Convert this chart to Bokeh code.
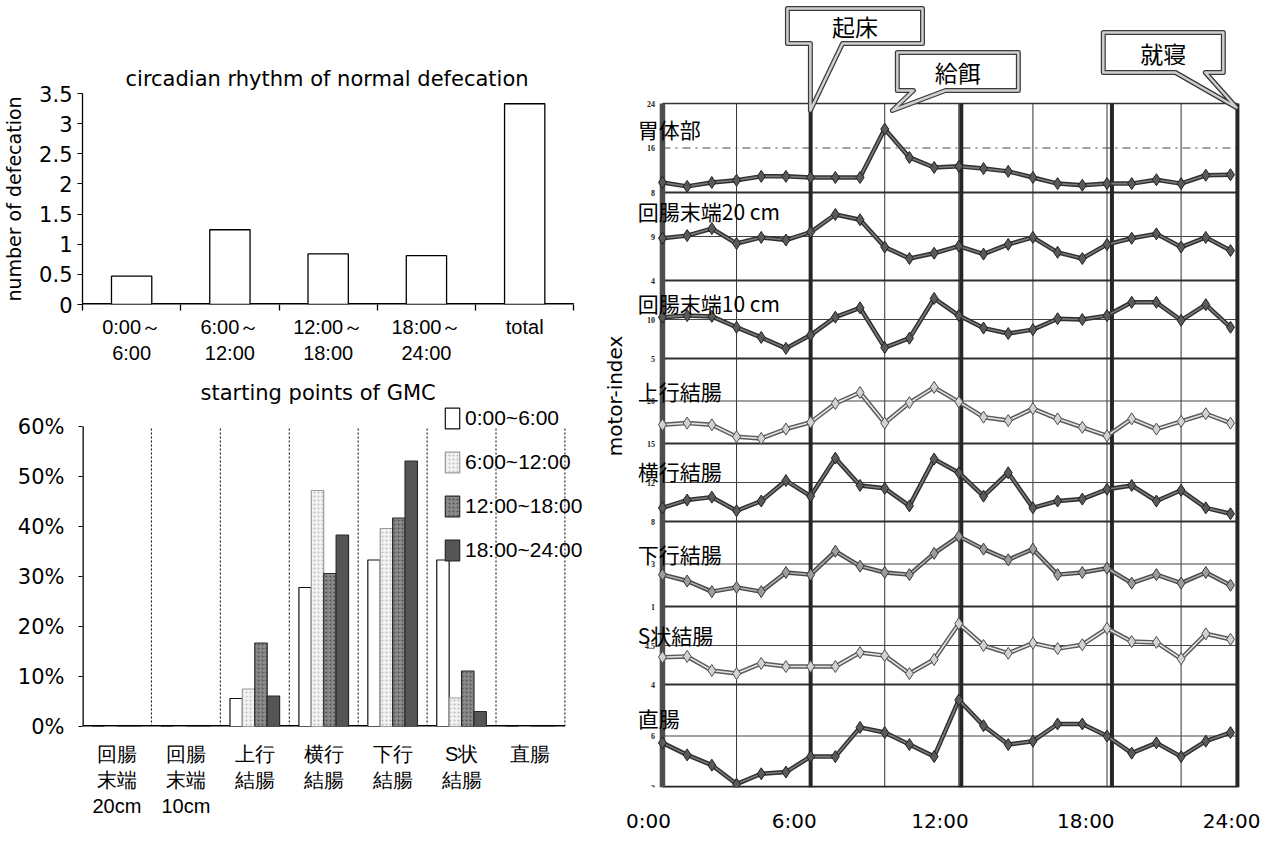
from bokeh.plotting import figure
from bokeh.layouts import row, column
from bokeh.models import (Range1d, LinearAxis, FixedTicker, LinearScale,
                          NumeralTickFormatter, PrintfTickFormatter, Legend, LegendItem, Label)
from bokeh.core.properties import value
from bokeh.embed import file_html
from bokeh.resources import INLINE

LATIN = "DejaVu Sans"
LAB = "Liberation Sans"
CJK = "Noto Sans CJK JP"

# ---------------- data: circadian rhythm of normal defecation ----------------
periods = ["0:00～\n6:00", "6:00～\n12:00", "12:00～\n18:00", "18:00～\n24:00", "total"]
defecations = [0.47, 1.24, 0.84, 0.81, 3.33]
defec_ticks = [0, 0.5, 1, 1.5, 2, 2.5, 3, 3.5]

# ---------------- data: starting points of GMC ----------------
segments = ["回腸\n末端\n20cm", "回腸\n末端\n10cm", "上行\n結腸", "横行\n結腸", "下行\n結腸", "S状\n結腸", "直腸"]
gmc_0_6 = [0, 0, 5.6, 27.8, 33.3, 33.3, 0]
gmc_6_12 = [0, 0, 7.5, 47.2, 39.6, 5.7, 0]
gmc_12_18 = [0, 0, 16.7, 30.6, 41.7, 11.1, 0]
gmc_18_24 = [0, 0, 6.1, 38.3, 53.1, 3.0, 0]
gmc_labels = ["0:00~6:00", "6:00~12:00", "12:00~18:00", "18:00~24:00"]
gmc_ticks = [0, 10, 20, 30, 40, 50, 60]

# ---------------- data: motor-index over 24 h ----------------
hours = list(range(24))
series_names = ["胃体部", "回腸末端20 cm", "回腸末端10 cm", "上行結腸", "横行結腸", "下行結腸", "S状結腸", "直腸"]
stomach = [9.8, 9.1, 9.8, 10.2, 10.9, 10.9, 10.7, 10.7, 10.7, 19.4, 14.3, 12.5,
           12.7, 12.3, 11.8, 10.7, 9.6, 9.3, 9.6, 9.6, 10.3, 9.6, 11.1, 11.2]
ileum20 = [8.8, 9.1, 9.9, 8.2, 8.9, 8.6, 9.5, 11.5, 10.9, 7.8, 6.5, 7.1,
           7.9, 7.0, 8.1, 8.9, 7.2, 6.5, 8.1, 8.8, 9.3, 7.8, 8.9, 7.4]
ileum10 = [10.3, 10.5, 10.4, 9.0, 7.7, 6.3, 8.0, 10.3, 11.5, 6.4, 7.6, 12.7,
           10.5, 8.9, 8.2, 8.7, 10.1, 10.0, 10.5, 12.2, 12.2, 9.9, 11.9, 9.0]
ascending = [17.2, 17.4, 17.2, 15.8, 15.6, 16.7, 17.5, 19.7, 21.0, 17.4, 19.8, 21.6,
             19.9, 18.1, 17.7, 19.1, 17.9, 16.9, 15.9, 17.9, 16.7, 17.6, 18.5, 17.4]
transverse = [9.4, 10.2, 10.5, 9.1, 10.1, 12.2, 10.6, 14.5, 11.7, 11.4, 9.6, 14.4,
              13.0, 10.6, 13.0, 9.4, 10.1, 10.3, 11.3, 11.7, 10.1, 11.2, 9.4, 8.8]
descending = [2.5, 2.2, 1.7, 1.9, 1.7, 2.6, 2.5, 3.6, 2.9, 2.6, 2.5, 3.5,
              4.3, 3.7, 3.2, 3.7, 2.5, 2.6, 2.8, 2.1, 2.5, 2.1, 2.6, 2.0]
sigmoid = [4.35, 4.36, 4.18, 4.14, 4.27, 4.23, 4.23, 4.23, 4.41, 4.37, 4.14, 4.32,
           4.78, 4.50, 4.40, 4.53, 4.46, 4.51, 4.72, 4.55, 4.54, 4.33, 4.65, 4.58]
rectum = [5.6, 4.9, 4.3, 3.2, 3.8, 3.9, 4.8, 4.8, 6.5, 6.2, 5.5, 4.8,
          8.1, 6.6, 5.5, 5.7, 6.7, 6.7, 6.0, 5.0, 5.6, 4.8, 5.7, 6.2]
series_values = [stomach, ileum20, ileum10, ascending, transverse, descending, sigmoid, rectum]
series_ranges = [(8, 24), (4, 14), (5, 15), (15, 25), (8, 16), (1, 5), (4, 5), (3, 9)]
series_tone = ["dark", "dark", "dark", "light", "dark", "mid", "light", "dark"]
clock_ticks = [0, 6, 12, 18, 24]
clock_labels = ["0:00", "6:00", "12:00", "18:00", "24:00"]
event_hours = [6.0, 12.1, 18.2]
callout_text = ["起床", "給餌", "就寝"]

# ---------------- layout / style parameters ----------------
band_edges = [0, 103, 181, 266, 344, 429, 507, 595, 684]   # stacked bands, bottom -> top
label_drop = [25, 18, 22, 32, 27, 32, 28, 33]              # series-name offset below band top
grid_hours = [3, 6, 9, 12, 15, 18, 21]
right_edge = 23.28
callout_box = [(5.06, 10.53, 744, 779), (9.51, 14.41, 697, 735), (17.85, 22.71, 715, 755)]
callout_tail = [(5.99, 7.29, 5.99, 677), (10.16, 11.46, 9.31, 677), (20.77, 21.98, 23.24, 680)]


def style_axis(ax, size="21px", font=LATIN):
    ax.major_label_text_font = font
    ax.major_label_text_font_size = size
    ax.major_label_text_color = "black"
    ax.axis_line_color = "black"
    ax.major_tick_line_color = "black"
    ax.minor_tick_line_color = None
    ax.axis_label_text_font = LATIN
    ax.axis_label_text_font_style = "normal"
    ax.axis_label_text_color = "black"


def style_title(p, standoff, offset):
    p.title.align = "left"
    p.title.offset = offset
    p.title.text_font = LATIN
    p.title.text_font_size = "21px"
    p.title.text_font_style = "normal"
    p.title.text_color = "black"
    p.title.standoff = standoff


# ================= panel A =================
n_per = len(periods)
per_pos = [k + 0.5 for k in range(n_per)]          # category centres on a 0..n axis
p1 = figure(x_range=Range1d(0, 5.19), y_range=Range1d(0, 3.5), width=598, height=378,
            x_axis_location=None, toolbar_location=None, output_backend="svg",
            min_border_left=80, min_border_right=6, min_border_top=93, min_border_bottom=74,
            title="circadian rhythm of normal defecation")
style_title(p1, 5, 43)
cat_axis = LinearAxis(ticker=FixedTicker(ticks=per_pos, minor_ticks=list(range(n_per + 1))),
                      major_label_overrides=dict(zip(per_pos, periods)))
style_axis(cat_axis, "20px", LAB)
cat_axis.axis_line_color = None
cat_axis.major_tick_line_color = None
cat_axis.major_tick_out = 0
cat_axis.major_tick_in = 0
cat_axis.minor_tick_line_color = "black"
cat_axis.minor_tick_line_width = 1.3
cat_axis.minor_tick_out = 6
cat_axis.minor_tick_in = 0
cat_axis.major_label_standoff = 5
p1.add_layout(cat_axis, "below")
style_axis(p1.yaxis[0])
p1.yaxis.ticker = FixedTicker(ticks=defec_ticks)
p1.yaxis.formatter = NumeralTickFormatter(format="0.[0]")
p1.yaxis.major_tick_out = 5
p1.yaxis.major_tick_in = 0
p1.yaxis.major_label_standoff = 5
p1.yaxis.axis_line_width = 1.3
p1.yaxis.axis_label = "number of defecation"
p1.yaxis.axis_label_text_font_size = "19px"
p1.yaxis.axis_label_standoff = 11
p1.grid.visible = False
p1.outline_line_color = None
p1.segment(x0=[0], y0=[0], x1=[n_per], y1=[0], line_color="black", line_width=3)
p1.vbar(x=per_pos, top=defecations, width=0.41, fill_color="white", line_color="black", line_width=1.3)

# ================= panel B =================
n_seg = len(segments)
seg_pos = [k + 0.5 for k in range(n_seg)]
p2 = figure(x_range=Range1d(0, 7.40), y_range=Range1d(0, 64.4), width=598, height=465,
            toolbar_location=None, output_backend="svg",
            min_border_left=80, min_border_right=6, min_border_top=26, min_border_bottom=117,
            title="starting points of GMC")
style_title(p2, 0, 118)
style_axis(p2.xaxis[0], "20px", LAB)
p2.xaxis.ticker = FixedTicker(ticks=seg_pos)
p2.xaxis.major_label_overrides = dict(zip(seg_pos, segments))
p2.xaxis.major_tick_line_color = None
p2.xaxis.major_tick_out = 0
p2.xaxis.major_tick_in = 0
p2.xaxis.axis_line_color = None
p2.xaxis.major_label_standoff = 16
style_axis(p2.yaxis[0])
p2.yaxis.ticker = FixedTicker(ticks=gmc_ticks)
p2.yaxis.formatter = PrintfTickFormatter(format="%d%%")
p2.yaxis.major_tick_out = 4
p2.yaxis.major_tick_in = 0
p2.yaxis.major_label_standoff = 14
p2.yaxis.axis_line_color = None
p2.grid.visible = False
p2.outline_line_color = None
ymax = gmc_ticks[-1]
p2.segment(x0=[0], y0=[0], x1=[n_seg], y1=[0], line_color="black", line_width=3)
p2.segment(x0=[0], y0=[0], x1=[0], y1=[ymax], line_color="black", line_width=2.6)
seps = list(range(1, n_seg + 1))
p2.segment(x0=seps, y0=[0] * n_seg, x1=seps, y1=[ymax] * n_seg,
           line_color="black", line_width=1, line_dash="2 2")
offsets = [-0.27, -0.09, 0.09, 0.27]
bar_styles = [("white", "#111111", None, None),
              ("#f2f2f2", "#9a9a9a", "dot", "#bdbdbd"),
              ("#8a8a8a", "#2a2a2a", "dot", "#505050"),
              ("#555555", "#2a2a2a", None, None)]
bars = []
for vals, off, (fc, lc, hp, hc) in zip([gmc_0_6, gmc_6_12, gmc_12_18, gmc_18_24], offsets, bar_styles):
    kw = dict(hatch_pattern=hp, hatch_color=hc, hatch_scale=4, hatch_weight=1) if hp else {}
    bars.append(p2.vbar(x=[c + off for c in seg_pos], top=vals, width=0.18,
                        fill_color=fc, line_color=lc, line_width=1.2, **kw))
legend = Legend(items=[LegendItem(label=l, renderers=[r]) for l, r in zip(gmc_labels, bars)],
                location=(361, 163), orientation="vertical", glyph_width=18, glyph_height=26,
                spacing=18, padding=0, margin=0, label_standoff=4, border_line_color=None,
                background_fill_alpha=0, label_text_font_size="21px", label_text_font=LAB,
                label_text_color="black")
p2.add_layout(legend)

# ================= panel C =================
p3 = figure(width=667, height=843, x_range=Range1d(-0.97, 23.81), y_range=Range1d(0, 783),
            x_axis_location=None, toolbar_location=None, output_backend="svg",
            min_border_left=40, min_border_right=15, min_border_top=4, min_border_bottom=56)
p3.extra_x_ranges = {"clock": Range1d(-0.41, 24.78)}
p3.extra_x_scales = {"clock": LinearScale()}
clock_axis = LinearAxis(x_range_name="clock", ticker=FixedTicker(ticks=clock_ticks),
                        major_label_overrides=dict(zip(clock_ticks, clock_labels)))
style_axis(clock_axis, "20px")
clock_axis.axis_line_color = None
clock_axis.major_tick_line_color = None
clock_axis.major_tick_out = 0
clock_axis.major_label_standoff = 21
p3.add_layout(clock_axis, "below")
style_axis(p3.yaxis[0])
p3.yaxis.ticker = FixedTicker(ticks=[])
p3.yaxis.axis_line_color = None
p3.yaxis.major_tick_line_color = None
p3.yaxis.major_label_standoff = 0
p3.yaxis.axis_label = "motor-index"
p3.yaxis.axis_label_text_font_size = "20px"
p3.yaxis.axis_label_standoff = 12
p3.grid.visible = False
p3.outline_line_color = None

band_top = band_edges[-1]
band_mids = [(band_edges[k] + band_edges[k + 1]) / 2 for k in range(len(band_edges) - 1)]
p3.segment(x0=grid_hours, y0=[0] * len(grid_hours), x1=grid_hours, y1=[band_top] * len(grid_hours),
           line_color="#333333", line_width=1)
p3.segment(x0=[hours[0]] * 7, y0=band_mids[:-1], x1=[right_edge] * 7, y1=band_mids[:-1],
           line_color="#444444", line_width=1.2)
p3.segment(x0=[hours[0]], y0=[band_mids[-1]], x1=[right_edge], y1=[band_mids[-1]],
           line_color="#444444", line_width=1.2, line_dash="8 5 2 5")
inner_edges = band_edges[1:-1]
p3.segment(x0=[hours[0]] * len(inner_edges), y0=inner_edges, x1=[right_edge] * len(inner_edges), y1=inner_edges,
           line_color="#2e2e2e", line_width=2)
p3.segment(x0=[hours[0]], y0=[band_top], x1=[right_edge], y1=[band_top], line_color="#333333", line_width=1.3)
p3.segment(x0=[hours[0]], y0=[band_edges[0]], x1=[right_edge], y1=[band_edges[0]], line_color="#222222", line_width=3.5)
p3.segment(x0=[hours[0]], y0=[band_edges[0]], x1=[hours[0]], y1=[band_top], line_color="#4d4d4d", line_width=5.5)
p3.segment(x0=event_hours, y0=[band_edges[0]] * 3, x1=event_hours, y1=[band_top] * 3,
           line_color="#262626", line_width=4)
p3.segment(x0=[right_edge], y0=[band_edges[0]], x1=[right_edge], y1=[band_top], line_color="#262626", line_width=4)

tones = {"dark": ("#303030", "#7c7c7c", "#5a5a5a", "#222222"),
         "mid": ("#484848", "#adadad", "#9c9c9c", "#383838"),
         "light": ("#5a5a5a", "#e4e4e4", "#d2d2d2", "#4e4e4e")}
nb = len(series_values)
for i, vals in enumerate(series_values):
    lo, hi = series_ranges[i]
    b0, b1 = band_edges[nb - 1 - i], band_edges[nb - i]
    ys = [b0 + (v - lo) / (hi - lo) * (b1 - b0) for v in vals]
    outer, inner, mfill, mline = tones[series_tone[i]]
    p3.line(hours, ys, line_color=outer, line_width=4.5, line_join="round")
    p3.line(hours, ys, line_color=inner, line_width=1.6, line_join="round")
    p3.scatter(hours, ys, marker="diamond", size=12, fill_color=mfill, line_color=mline, line_width=1)

tiny_u, tiny_txt = [], []
for i, (lo, hi) in enumerate(series_ranges):
    b0, b1 = band_edges[nb - 1 - i], band_edges[nb - i]
    tiny_u += [b0, (b0 + b1) / 2]
    tiny_txt += ["%g" % lo, "%g" % ((lo + hi) / 2)]
    if i == 0:
        tiny_u.append(b1)
        tiny_txt.append("%g" % hi)
p3.text(x=[-0.3] * len(tiny_u), y=tiny_u, text=tiny_txt, text_align="right", text_baseline="middle",
        text_font=value("Liberation Serif"), text_font_style="bold", text_font_size="8px", text_color="#222222")

for i, name in enumerate(series_names):
    b1 = band_edges[nb - i]
    p3.add_layout(Label(x=-1.0, y=b1 - label_drop[i], text=name, text_font=CJK, text_font_size="21px",
                        text_baseline="middle", text_align="left", text_color="black"))

cx, cy, tx, ty = [], [], [], []
for (h0, h1, u0, u1), (bl, br, th, tu) in zip(callout_box, callout_tail):
    cx.append([h0, h0, h1, h1, br, th, bl])
    cy.append([u0, u1, u1, u0, u0, tu, u0])
    tx.append((h0 + h1) / 2)
    ty.append((u0 + u1) / 2)
p3.patches(cx, cy, fill_color="white", line_color="#3a3a3a", line_width=5, line_join="round")
p3.patches(cx, cy, fill_alpha=0, line_color="#cfcfcf", line_width=2.5, line_join="round")
p3.text(x=tx, y=ty, text=callout_text, text_font=value(CJK), text_font_size="23px",
        text_align="center", text_baseline="middle", text_color="black")

layout = row(column(p1, p2), p3)
open("out.html", "w").write(file_html(layout, INLINE))
